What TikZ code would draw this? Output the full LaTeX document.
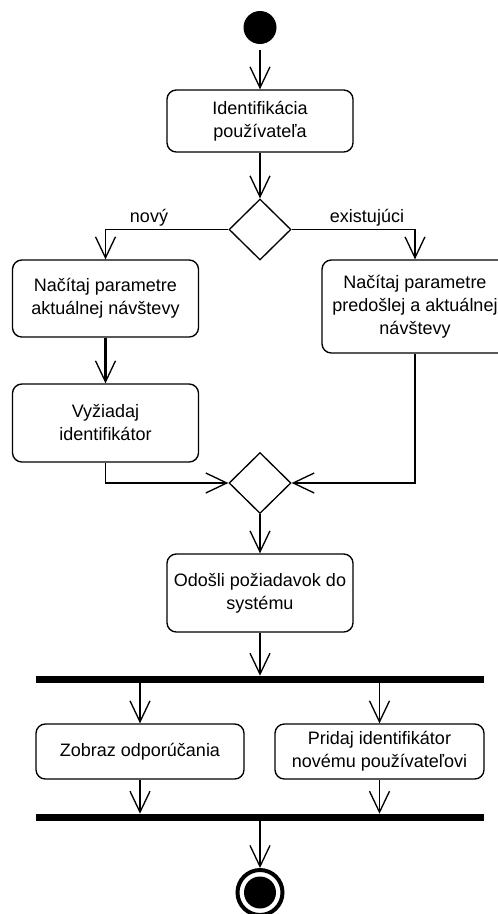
\documentclass[tikz,border=0pt]{standalone}
\usepackage{fontspec}
\setmainfont{Liberation Sans}
\usepackage{tikz}
\usetikzlibrary{arrows.meta,calc,shapes.geometric}
\tikzset{
  act/box/.style={
    draw=black,
    line width=1pt,
    rounded corners=7pt,
    fill=white,
    align=center,
    text=black,
    minimum width=139.5pt,
    inner xsep=2pt,
    inner ysep=2pt,
    font=\fontsize{13.5}{17.25}\selectfont
  },
  act/decision/.style={
    diamond,
    draw=black,
    line width=1pt,
    fill=white,
    aspect=1,
    inner sep=0pt,
    minimum width=46.5pt,
    minimum height=45.75pt
  },
  act/bar/.style={rectangle, fill=black, inner sep=0pt, minimum width=336pt, minimum height=5.25pt},
  act/start/.style={circle, fill=black, inner sep=0pt, minimum size=24.75pt},
  act/final/.style={circle, draw=black, line width=3pt, inner sep=0pt, minimum size=33.75pt},
  act/finaldot/.style={circle, fill=black, inner sep=0pt, minimum size=24pt},
  act/arrow/.style={-{Straight Barb[length=15.75pt,width=15pt,line width=1pt]}, line width=1pt, draw=black},
  act/guard/.style={font=\fontsize{13.5}{17.25}\selectfont, text=black, anchor=base, inner sep=0pt}
}

\begin{document}
\begin{tikzpicture}[x=0.75pt,y=-0.75pt]
  \useasboundingbox (0,0) rectangle (498,914);

  % start and identification
  \node[act/start] (start) at (260,27.5) {};
  \node[act/box,minimum height=46.5pt] (ident) at (260,121) {Identifikácia\\používateľa};
  \node[act/decision] (split) at (260,229.5) {};
  \node[act/guard] (newlbl) at (149,222) {nový};
  \node[act/guard] (oldlbl) at (367,222) {existujúci};

  % branches
  \node[act/box,minimum height=57.75pt] (readnew) at (105.5,298.5) {Načítaj parametre\\aktuálnej návštevy};
  \node[act/box,minimum height=58.5pt] (askid) at (105.5,423) {Vyžiadaj\\identifikátor};
  \node[act/box,minimum height=69.75pt] (readold) at (415,306.5) {Načítaj parametre\\predošlej a aktuálnej\\návštevy};
  \node[act/decision] (merge) at (260,483) {};

  \node[act/box,minimum height=58.5pt] (send) at (260,593) {Odošli požiadavok do\\systému};

  % fork / join
  \node[act/bar] (fork) at (260,679.5) {};
  \node[act/box,minimum width=156pt,minimum height=41.25pt] (show) at (140,751.5) {Zobraz odporúčania};
  \node[act/box,minimum width=156.75pt,minimum height=41.25pt] (addid) at (379.5,751.5) {Pridaj identifikátor\\novému používateľovi};
  \node[act/bar] (join) at (260,817.5) {};

  \node[act/final] (final) at (260,892.5) {};
  \node[act/finaldot] (finaldot) at (final.center) {};

  % flows
  \draw[act/arrow,shorten <=4pt] (start) -- (ident);
  \draw[act/arrow] (ident) -- (split);
  \draw[act/arrow] (split.west) -| (readnew.north);
  \draw[act/arrow] (split.east) -| (readold.north);
  \draw[act/arrow,line width=1.6pt] (readnew) -- (askid);
  \draw[act/arrow] (askid.south) |- (merge.west);
  \draw[act/arrow] (readold.south) |- (merge.east);
  \draw[act/arrow] (merge) -- (send);
  \draw[act/arrow] (send) -- (fork);
  \draw[act/arrow] (fork.south -| show.north) -- (show.north);
  \draw[act/arrow] (fork.south -| addid.north) -- (addid.north);
  \draw[act/arrow] (show.south) -- (show.south |- join.north);
  \draw[act/arrow] (addid.south) -- (addid.south |- join.north);
  \draw[act/arrow] (join) -- (final);
\end{tikzpicture}
\end{document}
